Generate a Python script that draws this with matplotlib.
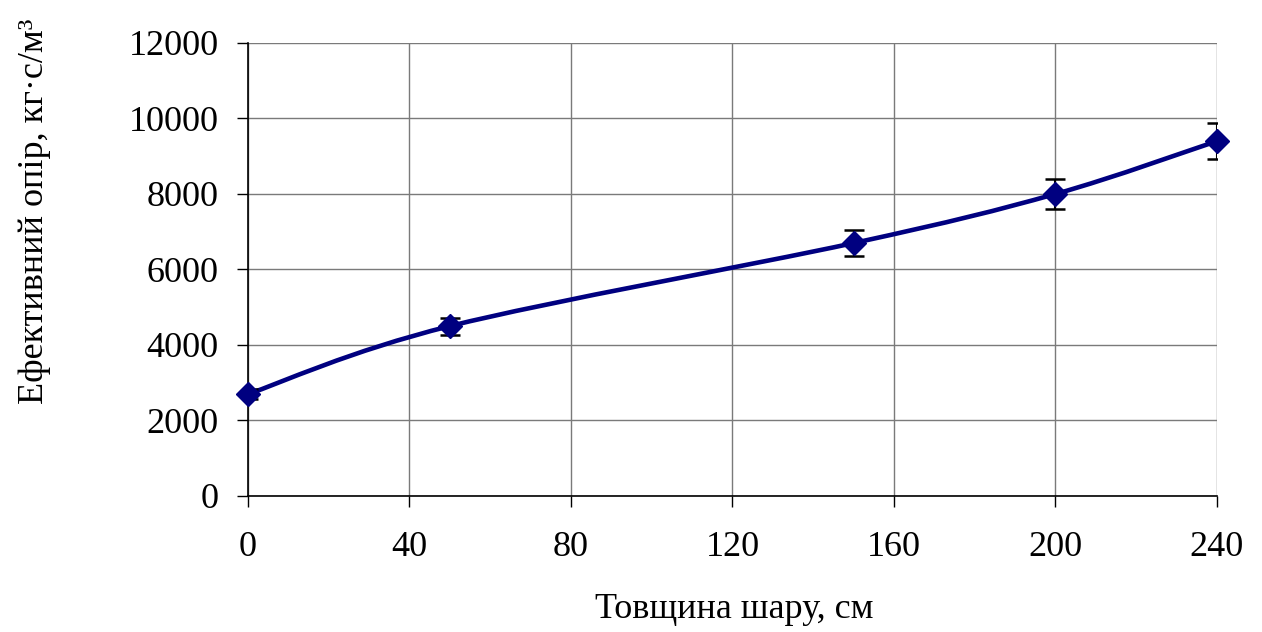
import matplotlib
matplotlib.use("Agg")
import matplotlib.pyplot as plt
import numpy as np
from matplotlib.path import Path
from matplotlib.patches import PathPatch

# Layer thickness (cm) vs effective resistance (kg*s/m^3), with 5% error
thickness = [0, 50, 150, 200, 240]
resistance = [2700, 4500, 6700, 8000, 9400]
error = [135, 225, 335, 400, 470]

x_ticks = [0, 40, 80, 120, 160, 200, 240]
y_ticks = [0, 2000, 4000, 6000, 8000, 10000, 12000]

plt.rcParams["font.family"] = ["Liberation Serif", "DejaVu Serif"]

LINE = "#000080"


def smooth_path(xs, ys):
    """Cubic Bezier path through the points (Catmull-Rom style tangents)."""
    pts = np.column_stack([xs, ys]).astype(float)
    n = len(pts)
    verts = [pts[0]]
    codes = [Path.MOVETO]
    for i in range(n - 1):
        p0 = pts[i - 1] if i > 0 else pts[i]
        p1 = pts[i]
        p2 = pts[i + 1]
        p3 = pts[i + 2] if i + 2 < n else pts[i + 1]
        c1 = p1 + (p2 - p0) / 6.0
        c2 = p2 - (p3 - p1) / 6.0
        verts += [c1, c2, p2]
        codes += [Path.CURVE4] * 3
    return Path(verts, codes)


fig = plt.figure(figsize=(12.62, 6.32), dpi=100)
ax = fig.add_axes([0.1965, 0.2152, 0.7678, 0.7168])

ax.add_patch(PathPatch(smooth_path(thickness, resistance), facecolor="none",
                       edgecolor=LINE, linewidth=3.3, zorder=3))
ax.errorbar(thickness, resistance, yerr=error, fmt="none", ecolor="black",
            elinewidth=1.5, capsize=7, capthick=1.8, zorder=4)
ax.plot(thickness, resistance, linestyle="none", marker="D", markersize=12,
        color=LINE, zorder=5, clip_on=False)

ax.set_xlim(0, 240)
ax.set_ylim(0, 12000)
ax.set_xticks(x_ticks)
ax.set_yticks(y_ticks)
ax.tick_params(axis="both", labelsize=26, length=8, width=1, direction="out")
ax.tick_params(axis="x", pad=17)
ax.tick_params(axis="y", pad=13)

ax.grid(True, color="#7a7a7a", linewidth=1)
ax.set_axisbelow(True)
for side in ("top", "right"):
    ax.spines[side].set_visible(False)
for side in ("left", "bottom"):
    ax.spines[side].set_linewidth(1.2)

fig.text(0.582, 0.035, "Товщина шару, см", ha="center", va="center", fontsize=26)
fig.text(0.027, 0.665, "Ефективний опір, кг·с/м³", ha="center", va="center",
         rotation=90, fontsize=26)

fig.savefig("out.png", dpi=100)
